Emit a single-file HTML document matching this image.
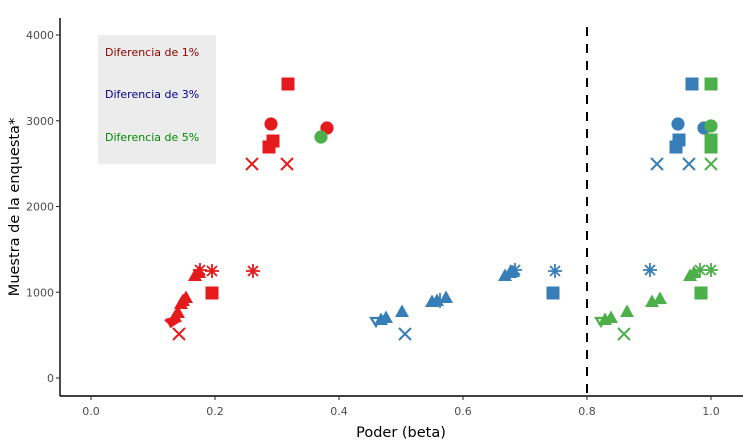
<!DOCTYPE html>
<html><head><meta charset="utf-8"><style>
html,body{margin:0;padding:0;background:#fff;}
svg{display:block;}
text{font-family:"DejaVu Sans","Liberation Sans",sans-serif;}
</style></head><body>
<svg width="743" height="442" viewBox="0 0 743 442" xmlns="http://www.w3.org/2000/svg">
<defs>
<symbol id="sq" overflow="visible"><rect x="-6.5" y="-6.5" width="13" height="13"/></symbol>
<symbol id="ci" overflow="visible"><circle cx="0" cy="0" r="6.6"/></symbol>
<symbol id="tr" overflow="visible"><polygon points="0,-7.5 7,5 -7,5"/></symbol>
</defs>
<rect x="0" y="0" width="743" height="442" fill="#fff"/>

<!-- legend box -->
<rect x="98" y="35" width="118" height="129" fill="#ececec"/>
<text x="105" y="56" font-size="11" fill="#8b0000">Diferencia de 1%</text>
<text x="105" y="98" font-size="11" fill="#00008b">Diferencia de 3%</text>
<text x="105" y="141" font-size="11" fill="#008b00">Diferencia de 5%</text>

<!-- axes -->
<line x1="60" y1="18" x2="60" y2="396" stroke="#000" stroke-width="1.4"/>
<line x1="60" y1="396" x2="743" y2="396" stroke="#000" stroke-width="1.4"/>
<g stroke="#333" stroke-width="1.1">
<line x1="56" y1="378" x2="60" y2="378"/>
<line x1="56" y1="292.25" x2="60" y2="292.25"/>
<line x1="56" y1="206.5" x2="60" y2="206.5"/>
<line x1="56" y1="120.75" x2="60" y2="120.75"/>
<line x1="56" y1="35" x2="60" y2="35"/>
<line x1="91" y1="396" x2="91" y2="400"/>
<line x1="215" y1="396" x2="215" y2="400"/>
<line x1="339" y1="396" x2="339" y2="400"/>
<line x1="463" y1="396" x2="463" y2="400"/>
<line x1="587" y1="396" x2="587" y2="400"/>
<line x1="711" y1="396" x2="711" y2="400"/>
</g>
<g font-size="11" fill="#4d4d4d" text-anchor="end">
<text x="54" y="382">0</text>
<text x="54" y="296.25">1000</text>
<text x="54" y="210.5">2000</text>
<text x="54" y="124.75">3000</text>
<text x="54" y="39">4000</text>
</g>
<g font-size="11" fill="#4d4d4d" text-anchor="middle">
<text x="91" y="415">0.0</text>
<text x="215" y="415">0.2</text>
<text x="339" y="415">0.4</text>
<text x="463" y="415">0.6</text>
<text x="587" y="415">0.8</text>
<text x="711" y="415">1.0</text>
</g>
<text x="401" y="437" font-size="14.5" fill="#000" text-anchor="middle">Poder (beta)</text>
<text transform="translate(19,207) rotate(-90)" font-size="14.5" fill="#000" text-anchor="middle">Muestra de la enquesta*</text>

<!-- dashed line -->
<line x1="587" y1="27" x2="587" y2="396" stroke="#000" stroke-width="2" stroke-dasharray="9,8"/>

<!-- RED -->
<g fill="#e41a1c" stroke="#e41a1c">
<use href="#sq" x="288" y="84" stroke="none"/>
<use href="#ci" x="271" y="124" stroke="none"/>
<use href="#sq" x="273" y="141" stroke="none"/>
<use href="#sq" x="269" y="147" stroke="none"/>
<use href="#ci" x="327" y="128" stroke="none"/>
<g stroke-width="2" fill="none">
<path d="M246,158 L258,170 M258,158 L246,170"/>
<path d="M281,158 L293,170 M293,158 L281,170"/>
<path d="M173,328 L185,340 M185,328 L173,340"/>
</g>
<use href="#tr" x="195" y="276" stroke="none"/>
<use href="#tr" x="199" y="273" stroke="none"/>
<g stroke-width="1.8" fill="none">
<path d="M200,263 L200,277 M193,270 L207,270 M195,265 L205,275 M205,265 L195,275"/>
<path d="M212,264 L212,278 M205,271 L219,271 M207,266 L217,276 M217,266 L207,276"/>
<path d="M253,264 L253,278 M246,271 L260,271 M248,266 L258,276 M258,266 L248,276"/>
</g>
<use href="#sq" x="212" y="293" stroke="none"/>
<use href="#tr" x="186" y="298" stroke="none"/>
<use href="#tr" x="183" y="301" stroke="none"/>
<use href="#tr" x="181" y="304" stroke="none"/>
<use href="#tr" x="178" y="313" stroke="none"/>
<use href="#tr" x="175" y="317" stroke="none"/>
<polygon points="164,320 176,315 172,328" stroke="none"/>
<polygon points="166,318 180,322 170,328" stroke="none"/>
</g>

<!-- BLUE -->
<g fill="#377eb8" stroke="#377eb8">
<use href="#sq" x="692" y="84" stroke="none"/>
<use href="#ci" x="678" y="124" stroke="none"/>
<use href="#ci" x="704" y="128" stroke="none"/>
<use href="#sq" x="679" y="140" stroke="none"/>
<use href="#sq" x="676" y="147" stroke="none"/>
<g stroke-width="2" fill="none">
<path d="M651,158 L663,170 M663,158 L651,170"/>
<path d="M683,158 L695,170 M695,158 L683,170"/>
<path d="M399,328 L411,340 M411,328 L399,340"/>
</g>
<use href="#tr" x="505" y="276" stroke="none"/>
<use href="#tr" x="510" y="273" stroke="none"/>
<use href="#tr" x="513" y="272" stroke="none"/>
<g stroke-width="1.8" fill="none">
<path d="M515,263 L515,277 M508,270 L522,270 M510,265 L520,275 M520,265 L510,275"/>
<path d="M555,264 L555,278 M548,271 L562,271 M550,266 L560,276 M560,266 L550,276"/>
<path d="M650,263 L650,277 M643,270 L657,270 M645,265 L655,275 M655,265 L645,275"/>
<line x1="440" y1="293" x2="440" y2="308"/>
</g>
<use href="#sq" x="553" y="293" stroke="none"/>
<use href="#tr" x="432" y="302" stroke="none"/>
<use href="#tr" x="437" y="301" stroke="none"/>
<use href="#tr" x="446" y="298" stroke="none"/>
<use href="#tr" x="402" y="312" stroke="none"/>
<polygon points="371,318 380,318 376,326" fill="none" stroke-width="2.2"/>
<use href="#tr" x="381" y="320" stroke="none"/>
<use href="#tr" x="386" y="318" stroke="none"/>
</g>

<!-- GREEN -->
<g fill="#4daf4a" stroke="#4daf4a">
<use href="#sq" x="711" y="84" stroke="none"/>
<use href="#ci" x="711" y="126" stroke="none"/>
<use href="#sq" x="711" y="140" stroke="none"/>
<use href="#sq" x="711" y="147" stroke="none"/>
<use href="#ci" x="321" y="137" stroke="none"/>
<g stroke-width="2" fill="none">
<path d="M705,158 L717,170 M717,158 L705,170"/>
<path d="M618,328 L630,340 M630,328 L618,340"/>
</g>
<use href="#tr" x="690" y="276" stroke="none"/>
<use href="#tr" x="694" y="273" stroke="none"/>
<g stroke-width="1.8" fill="none">
<path d="M700,263 L700,277 M693,270 L707,270 M695,265 L705,275 M705,265 L695,275"/>
<path d="M711,263 L711,277 M704,270 L718,270 M706,265 L716,275 M716,265 L706,275"/>
</g>
<use href="#sq" x="701" y="293" stroke="none"/>
<use href="#tr" x="652" y="302" stroke="none"/>
<use href="#tr" x="660" y="299" stroke="none"/>
<use href="#tr" x="627" y="312" stroke="none"/>
<polygon points="596,318 605,318 601,326" fill="none" stroke-width="2.2"/>
<use href="#tr" x="605" y="320" stroke="none"/>
<use href="#tr" x="611" y="318" stroke="none"/>
</g>
</svg>
</body></html>
